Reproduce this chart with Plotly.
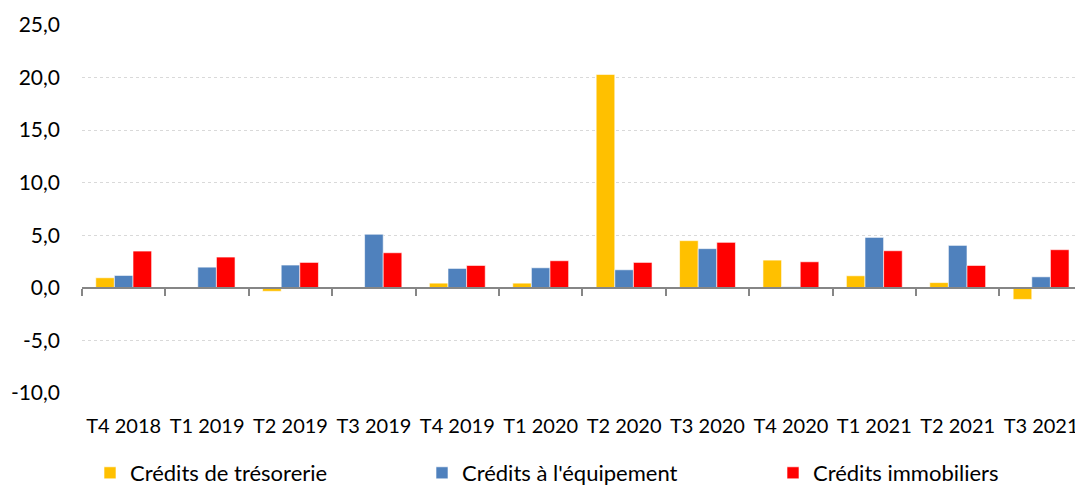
import plotly.graph_objects as go

categories = ["T4 2018", "T1 2019", "T2 2019", "T3 2019", "T4 2019", "T1 2020",
              "T2 2020", "T3 2020", "T4 2020", "T1 2021", "T2 2021", "T3 2021"]
tresorerie = [0.96, 0.0, -0.33, 0.05, 0.45, 0.45, 20.3, 4.49, 2.64, 1.15, 0.5, -1.1]
equipement = [1.18, 1.97, 2.17, 5.1, 1.85, 1.91, 1.72, 3.73, 0.1, 4.8, 4.04, 1.05]
immobiliers = [3.5, 2.93, 2.42, 3.34, 2.13, 2.58, 2.42, 4.33, 2.48, 3.53, 2.13, 3.63]
series_names = ["Crédits de trésorerie", "Crédits à l'équipement", "Crédits immobiliers"]
colors = ["#FFC000", "#4F81BD", "#FF0000"]
y_tickvals = [-10, -5, 0, 5, 10, 15, 20, 25]
y_ticktext = ["-10,0", "-5,0", "0,0", "5,0", "10,0", "15,0", "20,0", "25,0"]

FONT = "Lato"
W, H = 1075, 487
legend_left_px = [90, 422, 773]
legend_ids = ["legend", "legend2", "legend3"]

fig = go.Figure()
for name, vals, col, lid in zip(series_names, [tresorerie, equipement, immobiliers], colors, legend_ids):
    fig.add_trace(go.Bar(
        x=categories, y=vals, name=name, legend=lid,
        marker=dict(color=col, line=dict(color="rgba(255,255,255,0.6)", width=1)),
    ))

# invisible trace to carry the zero axis line with boundary ticks
fig.add_trace(go.Scatter(x=categories, y=[None] * len(categories), xaxis="x2",
                         showlegend=False, hoverinfo="skip", mode="markers"))

ml, mt, mb = 82, 25, 94
plot_w = W - ml
cat_px = 83.4
x_end = -0.5 + plot_w / cat_px
ymin, ymax = -10, 25
zero_pos = (0 - ymin) / (ymax - ymin)

legend_common = dict(orientation="h", xref="container", yref="container",
                     xanchor="left", yanchor="middle", y=1 - 473 / H,
                     font=dict(size=22, family=FONT), bgcolor="rgba(0,0,0,0)")

fig.update_layout(
    width=W, height=H,
    margin=dict(l=ml, r=0, t=mt, b=mb, autoexpand=False),
    plot_bgcolor="white", paper_bgcolor="white",
    barmode="group", bargap=0.33, bargroupgap=0,
    font=dict(family=FONT, size=21, color="black"),
    xaxis=dict(
        categoryorder="array", categoryarray=categories,
        range=[-0.5, x_end], showgrid=False, showline=False, ticks="",
        ticklabelstandoff=19, tickfont=dict(size=20, family=FONT),
    ),
    xaxis2=dict(
        overlaying="x", anchor="free", position=zero_pos, side="bottom",
        matches="x", categoryorder="array", categoryarray=categories,
        showgrid=False, showline=True, linecolor="#868686", linewidth=2,
        ticks="outside", tickson="boundaries", ticklen=7, tickcolor="#868686",
        tickwidth=2, showticklabels=False,
    ),
    yaxis=dict(
        range=[ymin, ymax], tickvals=y_tickvals, ticktext=y_ticktext,
        showgrid=True, gridcolor="#D9D9D9", griddash="dot", gridwidth=1,
        zeroline=False, showline=False, ticks="",
        ticklabelstandoff=21, tickfont=dict(size=21, family=FONT),
    ),
    legend=dict(x=legend_left_px[0] / W, **legend_common),
    legend2=dict(x=legend_left_px[1] / W, **legend_common),
    legend3=dict(x=legend_left_px[2] / W, **legend_common),
)
fig.write_html(
    "out.html",
    config={"displayModeBar": False},
    post_script="document.body.style.margin='0px';document.body.style.overflow='hidden';",
)
